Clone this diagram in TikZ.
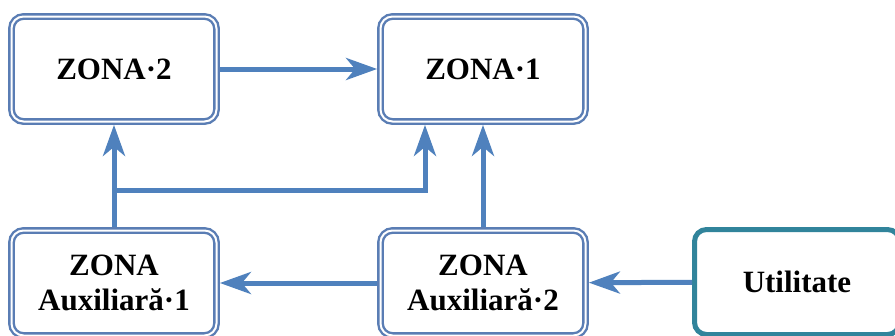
\documentclass[tikz,border=0pt]{standalone}
\usepackage{fontspec}
\setmainfont{Liberation Serif}[BoldFont={Liberation Serif Bold}]
\newfontfamily\tnrb{Liberation Serif Bold}
\usetikzlibrary{arrows.meta}
\definecolor{arrowblue}{HTML}{4F81BD}
\definecolor{boxblue}{HTML}{5A7DB4}
\definecolor{tealc}{HTML}{31849B}
\begin{document}
\begin{tikzpicture}[x=1pt,y=-1pt,
  zonebox/.style={draw=boxblue, double=white, line width=2.4pt, double distance=2pt,
    rounded corners=12pt, minimum width=205pt, minimum height=105pt, inner sep=0pt,
    outer sep=3.4pt, align=center, fill=white,
    font=\tnrb\fontsize{31}{35}\selectfont},
  utilbox/.style={draw=tealc, line width=5pt, rounded corners=12pt,
    minimum width=205pt, minimum height=105pt, inner sep=0pt, align=center, fill=white,
    font=\tnrb\fontsize{31}{35}\selectfont},
  conn/.style={draw=arrowblue, line width=5pt,
    -{Stealth[length=31pt,width=22pt,inset=9pt]}}]
\clip (0,0) rectangle (895,335);
\useasboundingbox (0,0) rectangle (895,335);
\fill[white] (0,0) rectangle (895,335);
\node[zonebox] (z2) at (114,69) {ZONA·2};
\node[zonebox] (z1) at (483,69) {ZONA·1};
\node[zonebox] (a1) at (114,283) {ZONA\\Auxiliară·1};
\node[zonebox] (a2) at (483,283) {ZONA\\Auxiliară·2};
\node[utilbox] (ut) at (797,282) {Utilitate};
\coordinate (br) at (114,190);
\coordinate (j) at (425,190);
\draw[conn] (z2) -- (z1);
\draw[conn] (a1) -- (z2);
\draw[conn] (br) -- (j) -- (j |- z1.south);
\draw[conn] (a2) -- (z1);
\draw[conn] (a2) -- (a1);
\draw[conn] (ut) -- (a2);
\end{tikzpicture}
\end{document}
